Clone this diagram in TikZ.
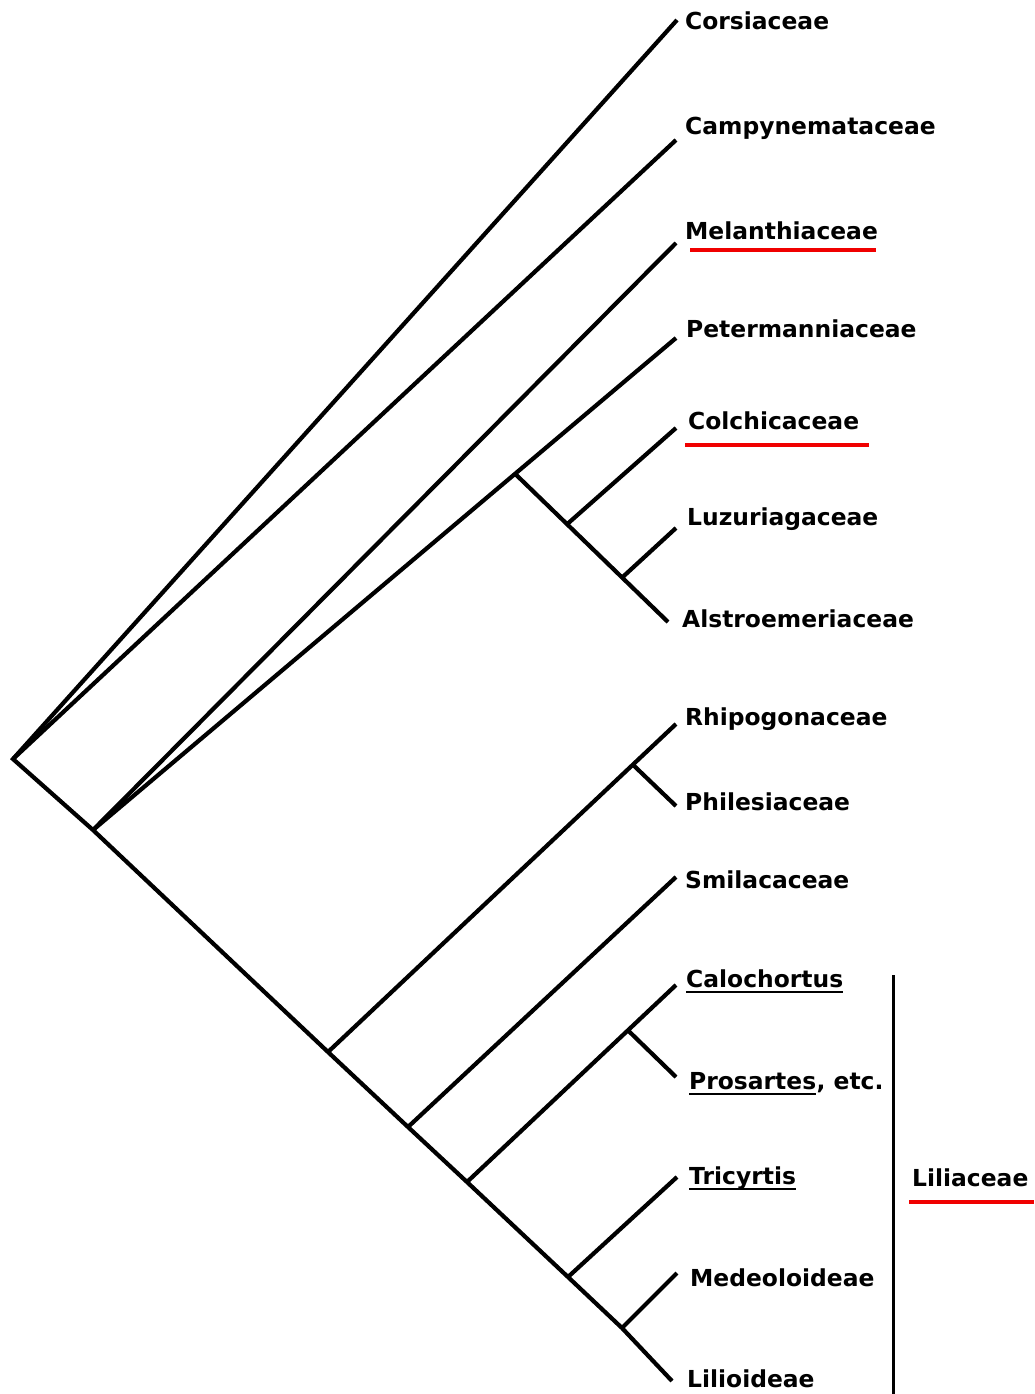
\documentclass[tikz,border=0pt]{standalone}
\usepackage{fontspec}
\setmainfont{DejaVu Sans}
\usepackage{xcolor}
\usepackage{tikz}
\usetikzlibrary{calc}

\definecolor{markred}{RGB}{240,0,0}

\begin{document}
\begin{tikzpicture}[x=1pt,y=-1pt,
    branch/.style={line width=4.2pt},
    taxon/.style={anchor=base west,inner sep=0pt,font=\fontsize{23.4}{27}\selectfont\bfseries},
    redline/.style={markred,line width=4pt},
    blackline/.style={line width=2.8pt}]
    \useasboundingbox (0,0) rectangle (1034,1394);

    % Tips
    \coordinate (root) at (13,759);
    \coordinate (t1) at (677,20);
    \coordinate (t2) at (676,140);
    \coordinate (t3) at (676,243);
    \coordinate (t4) at (676,338);
    \coordinate (t5) at (676,428);
    \coordinate (t6) at (676,528);
    \coordinate (t7) at (668,622);
    \coordinate (t8) at (676,724);
    \coordinate (t9) at (676,806);
    \coordinate (t10) at (676,877);
    \coordinate (t11) at (676,985);
    \coordinate (t12) at (676,1077);
    \coordinate (t13) at (677,1177);
    \coordinate (t14) at (677,1273);
    \coordinate (t15) at (672,1381);

    % Branch points
    \coordinate (a) at (93,830);
    \coordinate (e) at (328,1052);
    \coordinate (g) at (408,1127);
    \coordinate (h) at (467,1182);
    \coordinate (j) at (568,1277);
    \coordinate (k) at (622,1328);
    \coordinate (b) at ($(a)!0.724!(t4)$);
    \coordinate (c) at ($(b)!0.34!(t7)$);
    \coordinate (d) at ($(b)!0.70!(t7)$);
    \coordinate (f) at ($(e)!0.876!(t8)$);
    \coordinate (i) at ($(h)!0.770!(t11)$);

    % Tree
    \draw[branch] (t1) -- (root) -- (a) -- (e) -- (g) -- (h) -- (j) -- (k) -- (t15);
    \draw[branch] (root) -- (t2);
    \draw[branch] (a) -- (t3);
    \draw[branch] (a) -- (t4);
    \draw[branch] (b) -- (t7);
    \draw[branch] (c) -- (t5);
    \draw[branch] (d) -- (t6);
    \draw[branch] (e) -- (t8);
    \draw[branch] (f) -- (t9);
    \draw[branch] (g) -- (t10);
    \draw[branch] (h) -- (t11);
    \draw[branch] (i) -- (t12);
    \draw[branch] (j) -- (t13);
    \draw[branch] (k) -- (t14);

    % Labels
    \node[taxon] (corsi) at (685,30) {Corsiaceae};
    \node[taxon] (campy) at (685,135) {Campynemataceae};
    \node[taxon] (melan) at (685,239) {Melanthiaceae};
    \node[taxon] (peter) at (686,337) {Petermanniaceae};
    \node[taxon] (colch) at (688,429) {Colchicaceae};
    \node[taxon] (luzur) at (687,525) {Luzuriagaceae};
    \node[taxon] (alstr) at (682,627) {Alstroemeriaceae};
    \node[taxon] (rhipo) at (685,725) {Rhipogonaceae};
    \node[taxon] (phile) at (685,810) {Philesiaceae};
    \node[taxon] (smila) at (685,888) {Smilacaceae};
    \node[taxon] (caloc) at (686,987) {Calochortus};
    \node[taxon] (prosa) at (689,1089) {Prosartes};
    \node[taxon] (etc) at (prosa.base east) {, etc.};
    \node[taxon] (tricy) at (689,1184) {Tricyrtis};
    \node[taxon] (medeo) at (690,1286) {Medeoloideae};
    \node[taxon] (lilio) at (687,1387) {Lilioideae};
    \node[taxon] (lilia) at (912,1186) {Liliaceae};

    % Underlines
    \draw[redline] ([shift={(5,11)}]melan.base west) -- ([shift={(-2,11)}]melan.base east);
    \draw[redline] ([shift={(-3,16)}]colch.base west) -- ([shift={(10,16)}]colch.base east);
    \draw[redline] ([shift={(-3,16)}]lilia.base west) -- (1034,1202);
    \draw[blackline] ([shift={(0,5)}]caloc.base west) -- ([shift={(0,5)}]caloc.base east);
    \draw[blackline] ([shift={(0,5)}]prosa.base west) -- ([shift={(0,5)}]prosa.base east);
    \draw[blackline] ([shift={(0,5)}]tricy.base west) -- ([shift={(0,5)}]tricy.base east);

    % Bracket
    \coordinate (bartop) at (893,975);
    \coordinate (barend) at (893,1394);
    \draw[line width=3pt] (bartop) -- (barend);
\end{tikzpicture}
\end{document}
